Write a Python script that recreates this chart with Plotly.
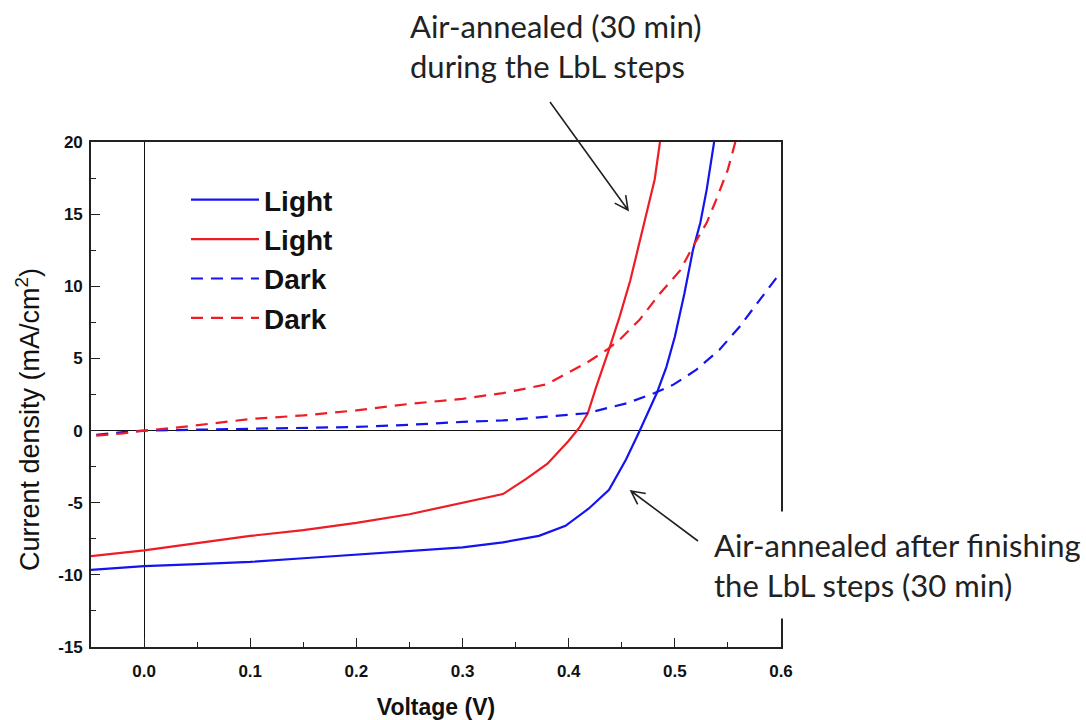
import math
import plotly.graph_objects as go

# ---- data ----
blue_light_v = [-0.05, 0.0, 0.05, 0.1, 0.15, 0.2, 0.25, 0.3, 0.338, 0.372, 0.397, 0.419, 0.438, 0.454, 0.467, 0.473, 0.483, 0.492, 0.500, 0.509, 0.517, 0.524, 0.530, 0.537]
blue_light_j = [-9.65, -9.4, -9.25, -9.1, -8.85, -8.6, -8.4, -8.1, -7.75, -7.3, -6.6, -5.4, -4.1, -2.0, 0.0, 0.97, 2.6, 4.4, 6.5, 9.5, 12.5, 14.4, 16.7, 20.0]

red_light_v = [-0.05, 0.0, 0.05, 0.1, 0.15, 0.2, 0.25, 0.3, 0.338, 0.36, 0.38, 0.40, 0.41, 0.418, 0.426, 0.437, 0.448, 0.458, 0.467, 0.475, 0.481, 0.486]
red_light_j = [-8.7, -8.3, -7.8, -7.3, -6.9, -6.4, -5.8, -5.0, -4.4, -3.35, -2.3, -0.7, 0.2, 1.2, 3.05, 5.4, 7.9, 10.4, 13.2, 15.5, 17.4, 20.0]

blue_dark_v = [-0.045, -0.02, 0.0, 0.05, 0.1, 0.15, 0.2, 0.25, 0.3, 0.338, 0.379, 0.417, 0.455, 0.481, 0.499, 0.520, 0.542, 0.561, 0.580, 0.6]
blue_dark_j = [-0.3, -0.1, 0.0, 0.05, 0.1, 0.15, 0.25, 0.4, 0.6, 0.7, 0.95, 1.2, 1.9, 2.6, 3.2, 4.2, 5.6, 7.2, 9.06, 11.0]

red_dark_v = [-0.045, -0.02, 0.0, 0.03, 0.1, 0.15, 0.2, 0.25, 0.3, 0.338, 0.379, 0.392, 0.417, 0.436, 0.448, 0.467, 0.486, 0.505, 0.517, 0.530, 0.539, 0.550, 0.557]
red_dark_j = [-0.35, -0.2, 0.0, 0.2, 0.8, 1.05, 1.4, 1.85, 2.2, 2.6, 3.2, 3.7, 4.7, 5.6, 6.3, 7.7, 9.5, 11.1, 12.75, 14.4, 16.0, 18.1, 20.0]

series_names = ["Light", "Light", "Dark", "Dark"]
x_ticks = [0.0, 0.1, 0.2, 0.3, 0.4, 0.5, 0.6]
x_tick_labels = ["0.0", "0.1", "0.2", "0.3", "0.4", "0.5", "0.6"]
y_ticks = [-15, -10, -5, 0, 5, 10, 15, 20]
y_tick_labels = ["-15", "-10", "-5", "0", "5", "10", "15", "20"]

BLUE = "#1414f0"
RED = "#ee1c24"
ARIAL = "Arial, Liberation Sans, sans-serif"
CAL = "Lato, Open Sans, sans-serif"

# plot-area geometry (pixels)
ML, MR, MT, MB = 91, 305, 142, 73
W, H = 1086, 720
PW, PH = W - ML - MR, H - MT - MB


def px2paper(px, py):
    return (px - ML) / PW, (H - MB - py) / PH


fig = go.Figure()
specs = [
    (blue_light_v, blue_light_j, BLUE, "solid"),
    (red_light_v, red_light_j, RED, "solid"),
    (blue_dark_v, blue_dark_j, BLUE, "12px,8px"),
    (red_dark_v, red_dark_j, RED, "12px,8px"),
]
for i, (v, j, c, d) in enumerate(specs):
    fig.add_trace(go.Scatter(
        x=v, y=j, mode="lines", name=series_names[i],
        line=dict(color=c, width=2.2, dash=d),
    ))

axis_common = dict(
    showline=True, linecolor="#222", linewidth=1.6, mirror=True,
    ticks="inside", ticklen=9, tickwidth=1.4, tickcolor="#222",
    showgrid=False, automargin=False,
    zeroline=True, zerolinecolor="#111", zerolinewidth=1.4,
    tickfont=dict(family=ARIAL, size=17, color="#111", weight="bold"),
)

fig.update_xaxes(
    range=[-0.05, 0.6], tickvals=x_ticks, ticktext=x_tick_labels,
    ticklabelstandoff=8,
    minor=dict(ticks="inside", ticklen=5, tickwidth=1.2, tickcolor="#222", dtick=0.05, tick0=0),
    title=dict(text="<b>Voltage (V)</b>", font=dict(family=ARIAL, size=23, color="#111"), standoff=24),
    **axis_common,
)
fig.update_yaxes(
    range=[-15, 20], tickvals=y_ticks, ticktext=y_tick_labels,
    ticklabelstandoff=3,
    minor=dict(ticks="inside", ticklen=5, tickwidth=1.2, tickcolor="#222", dtick=2.5, tick0=0),
    **axis_common,
)

fig.update_layout(
    width=W, height=H,
    margin=dict(l=ML, r=MR, t=MT, b=MB, autoexpand=False),
    paper_bgcolor="white", plot_bgcolor="white",
    showlegend=True,
    legend=dict(
        x=(186 - ML) / PW, y=(H - MB - 175) / PH, xanchor="left", yanchor="top",
        font=dict(family=ARIAL, size=28, color="#111", weight="bold"),
        bgcolor="rgba(0,0,0,0)", itemwidth=68, tracegroupgap=0,
    ),
)

# y-axis title (placed as rotated text to match the reference position)
yt_x, yt_y = px2paper(28, 420)
fig.add_annotation(
    xref="paper", yref="paper", x=yt_x, y=yt_y, xanchor="center", yanchor="middle",
    textangle=-90, showarrow=False,
    text="Current density (mA/cm<sup>2</sup>)",
    font=dict(family=ARIAL, size=27, color="#111"),
)

# text annotations
x0, y0 = px2paper(408, 5)
fig.add_annotation(
    xref="paper", yref="paper", x=x0, y=y0,
    xanchor="left", yanchor="top", align="left", showarrow=False,
    text="Air-annealed (30 min)<br>during the LbL steps",
    font=dict(family=CAL, size=31, color="#222"),
)
x1, y1 = px2paper(699, 511)
fig.add_annotation(
    xref="paper", yref="paper", x=x1, y=y1,
    xanchor="left", yanchor="top", align="left", showarrow=False,
    text="Air-annealed after finishing<br>the LbL steps (30 min)",
    font=dict(family=CAL, size=31, color="#222"),
    bgcolor="white", borderpad=14,
)


# arrows drawn as shapes (open V heads)
def add_arrow(tail, head, hl=15, ang=27):
    tx, ty = tail
    hx, hy = head
    dx, dy = tx - hx, ty - hy
    n = math.hypot(dx, dy)
    ux, uy = dx / n, dy / n
    pts = []
    for s in (1, -1):
        a = math.radians(ang * s)
        rx = ux * math.cos(a) - uy * math.sin(a)
        ry = ux * math.sin(a) + uy * math.cos(a)
        pts.append((hx + rx * hl, hy + ry * hl))

    def p(pt):
        X, Y = px2paper(*pt)
        return f"{X:.5f},{Y:.5f}"
    path = (f"M{p(tail)} L{p(head)} "
            f"M{p(pts[0])} L{p(head)} L{p(pts[1])}")
    fig.add_shape(type="path", xref="paper", yref="paper", path=path,
                  line=dict(color="#222", width=1.6), layer="above")


add_arrow((550, 102), (628, 210))
add_arrow((698, 541), (631, 491))

fig.write_html("out.html")
